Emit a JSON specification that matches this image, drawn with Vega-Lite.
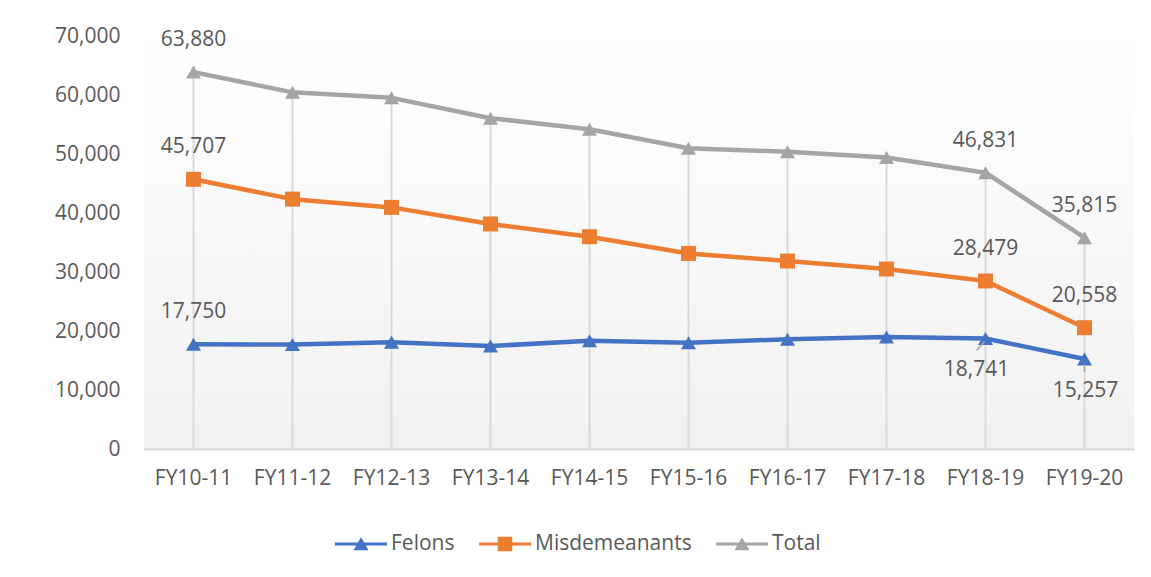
{
  "$schema": "https://vega.github.io/schema/vega-lite/v6.json",
  "width": 990,
  "height": 413,
  "autosize": {"type": "none"},
  "padding": {"left": 144, "top": 36, "right": 17, "bottom": 128},
  "background": "white",
  "config": {
    "font": "Open Sans",
    "view": {"stroke": null, "fill": {"gradient": "linear", "x1": 0, "y1": 0, "x2": 0, "y2": 1, "stops": [{"offset": 0, "color": "#ffffff"}, {"offset": 1, "color": "#f1f1f1"}]}},
    "axis": {"labelFont": "Open Sans", "labelFontSize": 21, "labelColor": "#595959", "ticks": false, "grid": false, "title": null}
  },
  "data": {"values": [
    {"year": "FY10-11", "series": "Felons", "value": 17750},
    {"year": "FY11-12", "series": "Felons", "value": 17700},
    {"year": "FY12-13", "series": "Felons", "value": 18100},
    {"year": "FY13-14", "series": "Felons", "value": 17450},
    {"year": "FY14-15", "series": "Felons", "value": 18330},
    {"year": "FY15-16", "series": "Felons", "value": 18000},
    {"year": "FY16-17", "series": "Felons", "value": 18600},
    {"year": "FY17-18", "series": "Felons", "value": 19000},
    {"year": "FY18-19", "series": "Felons", "value": 18741},
    {"year": "FY19-20", "series": "Felons", "value": 15257},
    {"year": "FY10-11", "series": "Misdemeanants", "value": 45707},
    {"year": "FY11-12", "series": "Misdemeanants", "value": 42350},
    {"year": "FY12-13", "series": "Misdemeanants", "value": 40950},
    {"year": "FY13-14", "series": "Misdemeanants", "value": 38140},
    {"year": "FY14-15", "series": "Misdemeanants", "value": 35980},
    {"year": "FY15-16", "series": "Misdemeanants", "value": 33150},
    {"year": "FY16-17", "series": "Misdemeanants", "value": 31860},
    {"year": "FY17-18", "series": "Misdemeanants", "value": 30500},
    {"year": "FY18-19", "series": "Misdemeanants", "value": 28479},
    {"year": "FY19-20", "series": "Misdemeanants", "value": 20558},
    {"year": "FY10-11", "series": "Total", "value": 63880},
    {"year": "FY11-12", "series": "Total", "value": 60450},
    {"year": "FY12-13", "series": "Total", "value": 59520},
    {"year": "FY13-14", "series": "Total", "value": 56070},
    {"year": "FY14-15", "series": "Total", "value": 54200},
    {"year": "FY15-16", "series": "Total", "value": 50980},
    {"year": "FY16-17", "series": "Total", "value": 50380},
    {"year": "FY17-18", "series": "Total", "value": 49420},
    {"year": "FY18-19", "series": "Total", "value": 46831},
    {"year": "FY19-20", "series": "Total", "value": 35815}
  ]},
  "encoding": {
    "x": {"field": "year", "type": "nominal", "sort": null,
          "scale": {"paddingInner": 0, "paddingOuter": 0},
          "axis": {"labelAngle": 0, "labelPadding": 18, "domain": true, "domainColor": "#d9d9d9", "domainWidth": 2}},
    "y": {"field": "value", "type": "quantitative",
          "scale": {"domain": [0, 70000], "nice": false},
          "axis": {"values": [0, 10000, 20000, 30000, 40000, 50000, 60000, 70000], "labelExpr": "format(datum.value, ',')", "domain": false, "labelPadding": 24}}
  },
  "layer": [
    {
      "transform": [{"filter": "datum.series == 'Total'"}],
      "mark": {"type": "rule", "color": "#d9d9d9", "strokeWidth": 2},
      "encoding": {"y2": {"datum": 0}}
    },
    {
      "mark": {"type": "line", "strokeWidth": 4.5, "strokeCap": "round", "strokeJoin": "round"},
      "encoding": {
        "color": {"field": "series", "type": "nominal",
          "scale": {"domain": ["Felons", "Misdemeanants", "Total"], "range": ["#4472C4", "#ED7D31", "#A5A5A5"]},
          "legend": {
            "orient": "none", "direction": "horizontal", "title": null,
            "legendX": 191, "legendY": 482,
            "labelFont": "Open Sans", "labelFontSize": 21, "labelColor": "#595959",
            "labelOffset": 4, "columnPadding": 24,
            "symbolSize": 2704, "symbolStrokeWidth": 0,
            "encode": {"symbols": {"update": {
              "shape": {"signal": "datum.value === 'Misdemeanants' ? 'M-1,-0.06H1V0.06H-1Z M-0.28,-0.28H0.28V0.28H-0.28Z' : 'M-1,-0.06H1V0.06H-1Z M0,-0.26L0.29,0.24H-0.29Z'"},
              "fill": {"scale": "color", "field": "value"},
              "strokeWidth": {"value": 0},
              "opacity": {"value": 1}
            }}}
          }}
      }
    },
    {
      "transform": [{"filter": "datum.series != 'Misdemeanants'"}],
      "mark": {"type": "point", "shape": "triangle-up", "filled": true, "opacity": 1, "size": 225},
      "encoding": {"color": {"field": "series", "type": "nominal"}}
    },
    {
      "transform": [{"filter": "datum.series == 'Misdemeanants'"}],
      "mark": {"type": "point", "shape": "square", "filled": true, "opacity": 1, "size": 225},
      "encoding": {"color": {"field": "series", "type": "nominal"}}
    },
    {
      "transform": [{"filter": "(datum.year == 'FY10-11' || datum.year == 'FY18-19' || datum.year == 'FY19-20') && !(datum.series == 'Felons' && datum.year != 'FY10-11')"}],
      "mark": {"type": "text", "dy": -32, "fontSize": 21, "font": "Open Sans", "color": "#595959", "baseline": "middle"},
      "encoding": {"text": {"field": "value", "type": "quantitative", "format": ","}}
    },
    {
      "transform": [{"filter": "datum.series == 'Felons' && datum.year == 'FY18-19'"}],
      "mark": {"type": "text", "dy": 32, "dx": -9, "fontSize": 21, "font": "Open Sans", "color": "#595959", "baseline": "middle"},
      "encoding": {"text": {"field": "value", "type": "quantitative", "format": ","}}
    },
    {
      "transform": [{"filter": "datum.series == 'Felons' && datum.year == 'FY19-20'"}],
      "mark": {"type": "text", "dy": 32, "dx": 1, "fontSize": 21, "font": "Open Sans", "color": "#595959", "baseline": "middle"},
      "encoding": {"text": {"field": "value", "type": "quantitative", "format": ","}}
    },
    {
      "transform": [{"filter": "datum.series == 'Felons' && datum.year == 'FY19-20'"}],
      "mark": {"type": "rule", "color": "#a5a5a5", "strokeWidth": 1.5, "yOffset": 5, "y2Offset": 13},
      "encoding": {"y2": {"field": "value"}}
    },
    {
      "transform": [{"filter": "datum.series == 'Felons' && datum.year == 'FY18-19'"}],
      "mark": {"type": "rule", "color": "#a5a5a5", "strokeWidth": 1.5, "xOffset": -1, "x2Offset": -9, "yOffset": 3, "y2Offset": 12},
      "encoding": {"x2": {"field": "year"}, "y2": {"field": "value"}}
    }
  ]
}
